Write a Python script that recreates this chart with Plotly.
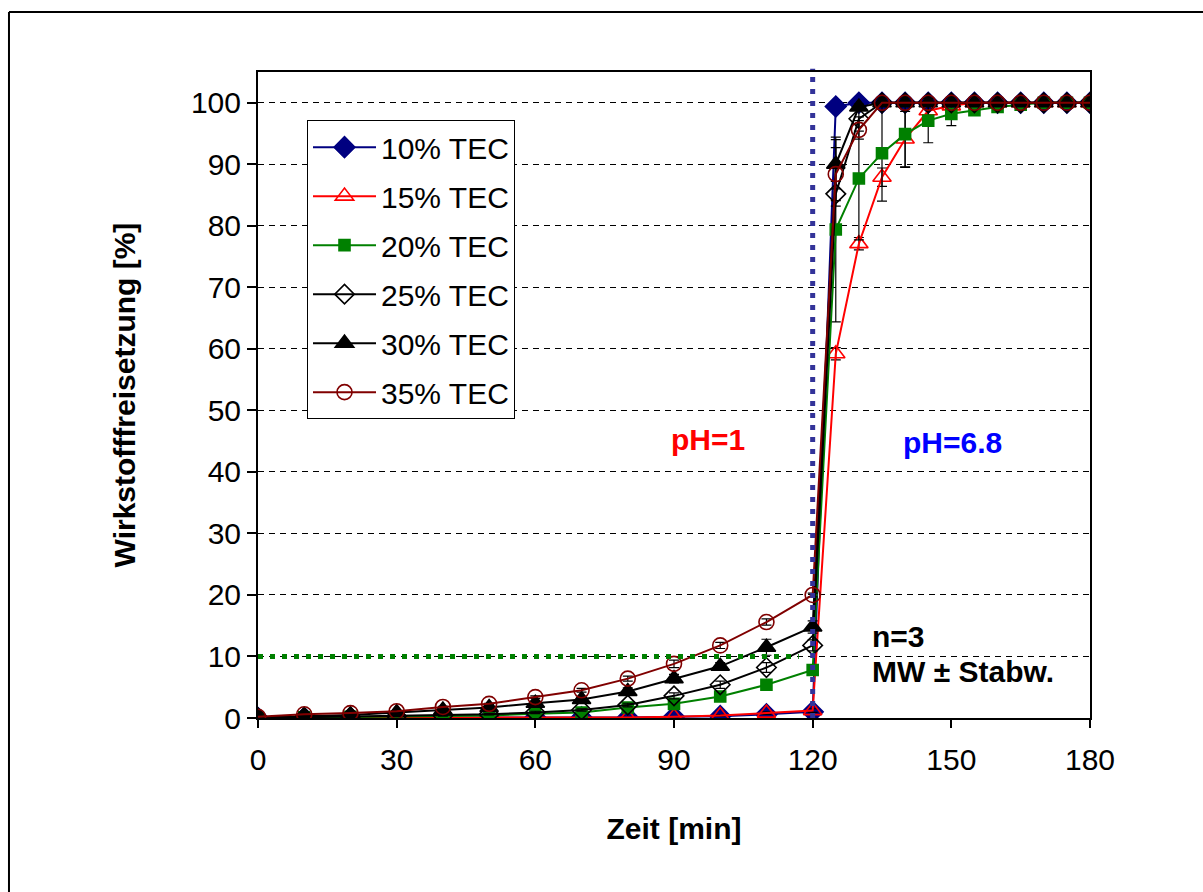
import plotly.graph_objects as go

# ---------------- data ----------------
time_min = [0, 10, 20, 30, 40, 50, 60, 70, 80, 90, 100, 110, 120,
            125, 130, 135, 140, 145, 150, 155, 160, 165, 170, 175, 180]

tec10 = [0.0, 0.0, 0.0, 0.0, 0.0, 0.0, 0.1, 0.1, 0.1, 0.2, 0.3, 0.6, 1.0,
         99.4, 100, 100, 100, 100, 100, 100, 100, 100, 100, 100, 100]
tec15 = [0.0, 0.0, 0.0, 0.0, 0.0, 0.0, 0.1, 0.1, 0.1, 0.2, 0.4, 0.8, 1.2,
         59.2, 77.1, 87.9, 94.1, 98.7, 99.5, 100, 100, 100, 100, 100, 100]
tec20 = [0.0, 0.1, 0.2, 0.2, 0.3, 0.4, 0.7, 0.9, 1.7, 2.3, 3.5, 5.4, 7.8,
         79.4, 87.7, 91.8, 94.9, 97.1, 98.2, 98.8, 99.3, 99.7, 100, 100, 100]
tec25 = [0.0, 0.1, 0.2, 0.3, 0.4, 0.6, 0.9, 1.3, 2.1, 3.6, 5.4, 8.2, 11.8,
         85.2, 97.4, 100, 100, 100, 100, 100, 100, 100, 100, 100, 100]
tec30 = [0.1, 0.3, 0.5, 0.9, 1.3, 1.7, 2.4, 3.0, 4.3, 6.4, 8.4, 11.5, 14.8,
         90.0, 99.3, 100, 100, 100, 100, 100, 100, 100, 100, 100, 100]
tec35 = [0.2, 0.6, 0.8, 1.1, 1.8, 2.3, 3.4, 4.5, 6.4, 8.8, 11.8, 15.6, 20.0,
         88.4, 95.6, 100, 100, 100, 100, 100, 100, 100, 100, 100, 100]

sd10 = [0, 0, 0, 0, 0, 0, 0, 0, 0, 0, 0.1, 0.1, 0.2,
        0.5, 0, 0, 0, 0, 0, 0, 0, 0, 0, 0, 0]
sd15 = [0, 0, 0, 0, 0, 0, 0, 0, 0, 0, 0.1, 0.2, 0.3,
        1.0, 1.0, 1.5, 4.5, 1.0, 0.5, 0, 0, 0, 0, 0, 0]
sd20 = [0, 0, 0, 0, 0, 0.1, 0.1, 0.1, 0.2, 0.2, 0.3, 0.4, 0.5,
        15.0, 10.0, 7.8, 5.4, 3.6, 1.9, 0.6, 0.3, 0, 0, 0, 0]
sd25 = [0, 0, 0, 0, 0.1, 0.1, 0.2, 0.2, 0.3, 0.5, 0.6, 0.8, 0.9,
        2.0, 2.0, 0, 0, 0, 0, 0, 0, 0, 0, 0, 0]
sd30 = [0, 0, 0, 0.1, 0.1, 0.2, 0.3, 0.4, 0.6, 0.7, 0.6, 1.3, 1.0,
        4.0, 0.5, 0, 0, 0, 0, 0, 0, 0, 0, 0, 0]
sd35 = [0, 0, 0, 0, 0.1, 0.1, 0.2, 0.3, 0.4, 0.6, 0.5, 0.5, 0.3,
        4.3, 1.5, 0, 0, 0, 0, 0, 0, 0, 0, 0, 0]

series_names = ["10% TEC", "15% TEC", "20% TEC", "25% TEC", "30% TEC", "35% TEC"]

phase_change_min = 120      # switch from pH 1 to pH 6.8
limit_pct = 10              # 10 % release limit
limit_end_min = 117

x_ticks = [0, 30, 60, 90, 120, 150, 180]
y_ticks = [0, 10, 20, 30, 40, 50, 60, 70, 80, 90, 100]

# ---------------- styles ----------------
FONT = "Arial, 'Liberation Sans', sans-serif"
FS = 30
styles = [
    dict(color="#000080", symbol="diamond", size=16),
    dict(color="#FF0000", symbol="triangle-up-open", size=16),
    dict(color="#008000", symbol="square", size=11),
    dict(color="#000000", symbol="diamond-open", size=15),
    dict(color="#000000", symbol="triangle-up", size=16),
    dict(color="#800000", symbol="circle-open", size=15),
]
values = [tec10, tec15, tec20, tec25, tec30, tec35]
errors = [sd10, sd15, sd20, sd25, sd30, sd35]

fig = go.Figure()
for name, y, e, st in zip(series_names, values, errors, styles):
    fig.add_trace(go.Scatter(
        x=time_min, y=y, name=name, mode="lines+markers",
        legendgroup=name,
        line=dict(color=st["color"], width=2),
        marker=dict(symbol=st["symbol"], size=st["size"], color=st["color"],
                    line=dict(color=st["color"], width=1.6)),
        error_y=dict(type="data", array=e, visible=True, color="#000000",
                     thickness=1.2, width=5),
    ))

# reference lines
fig.add_shape(type="line", xref="x", yref="y",
              x0=0, x1=limit_end_min, y0=limit_pct, y1=limit_pct,
              line=dict(color="#008000", width=5, dash="5px,7px"), layer="above")
fig.add_shape(type="line", xref="x", yref="paper",
              x0=phase_change_min, x1=phase_change_min, y0=0, y1=1.005,
              line=dict(color="#333399", width=5, dash="5px,7px"), layer="above")

# outer frame (top and left edges)
fig.add_shape(type="line", xref="paper", yref="paper",
              x0=-0.2993, x1=1.14, y0=1.0929, y1=1.0929,
              line=dict(color="#000000", width=2))
fig.add_shape(type="line", xref="paper", yref="paper",
              x0=-0.2993, x1=-0.2993, y0=1.0929, y1=-0.28,
              line=dict(color="#000000", width=2))

# annotations
fig.add_annotation(x=97.4, y=45.2, xref="x", yref="y", text="<b>pH=1</b>",
                   showarrow=False, font=dict(family=FONT, size=FS, color="#FF0000"))
fig.add_annotation(x=150.2, y=44.7, xref="x", yref="y", text="<b>pH=6.8</b>",
                   showarrow=False, font=dict(family=FONT, size=FS, color="#0000FF"))
fig.add_annotation(x=132.4, y=13.3, xref="x", yref="y", text="<b>n=3</b>",
                   showarrow=False, xanchor="left",
                   font=dict(family=FONT, size=FS, color="#000000"))
fig.add_annotation(x=132.4, y=7.6, xref="x", yref="y", text="<b>MW ± Stabw.</b>",
                   showarrow=False, xanchor="left",
                   font=dict(family=FONT, size=FS, color="#000000"))

fig.update_layout(
    width=1203, height=892,
    margin=dict(l=258, r=113, t=72, b=174),
    paper_bgcolor="white", plot_bgcolor="white",
    font=dict(family=FONT, size=FS, color="#000000"),
    showlegend=True,
    legend=dict(x=0.0589, y=0.9255, xanchor="left", yanchor="top",
                bgcolor="white", bordercolor="#000000", borderwidth=1,
                font=dict(family=FONT, size=FS, color="#000000"),
                itemwidth=63,
                tracegroupgap=7, traceorder="grouped"),
    xaxis=dict(range=[0, 180], tickmode="array", tickvals=x_ticks,
               ticks="outside", ticklen=8, tickwidth=1.5, tickcolor="#000000",
               showline=True, linecolor="#000000", linewidth=2, mirror=True,
               showgrid=False, zeroline=False, ticklabelstandoff=6,
               tickfont=dict(family=FONT, size=FS),
               title=dict(text="<b>Zeit [min]</b>", standoff=43,
                          font=dict(family=FONT, size=FS))),
    yaxis=dict(range=[0, 105], tickmode="array", tickvals=y_ticks,
               ticks="outside", ticklen=9, tickwidth=1.5, tickcolor="#000000",
               showline=True, linecolor="#000000", linewidth=2, mirror=True,
               showgrid=True, gridcolor="#000000", gridwidth=1, griddash="6px,5px",
               zeroline=False,
               tickfont=dict(family=FONT, size=FS),
               title=dict(text="<b>Wirkstofffreisetzung [%]</b>", standoff=46,
                          font=dict(family=FONT, size=FS))),
)

fig.write_html("out.html")
